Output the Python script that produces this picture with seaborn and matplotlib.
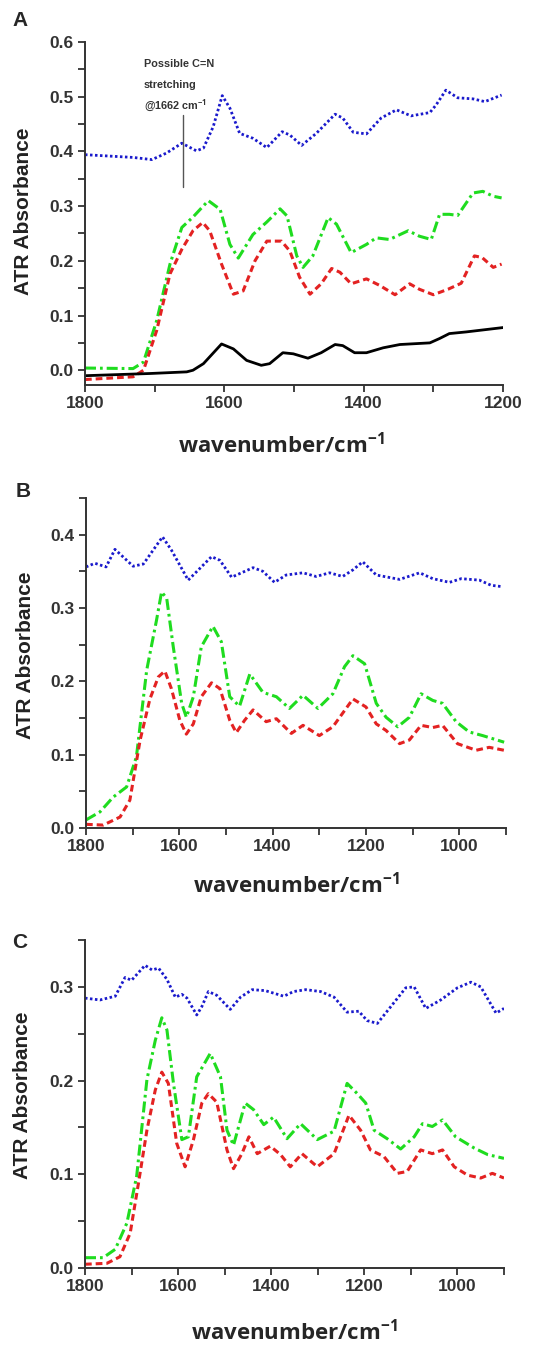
import matplotlib
matplotlib.use('Agg')
import matplotlib.pyplot as plt
from matplotlib.ticker import MultipleLocator
import numpy as np
import pandas as pd
import seaborn as sns

# ---- panel A (1800-1200 cm-1) ----
a_black_wn = [1800, 1707, 1654, 1645, 1630, 1604, 1587, 1568, 1547, 1535, 1516, 1501, 1480, 1461,
              1441, 1430, 1413, 1396, 1372, 1348, 1305, 1291, 1277, 1253, 1200]
a_black = [-0.010, -0.006, -0.003, 0.0, 0.012, 0.048, 0.039, 0.018, 0.009, 0.012, 0.032, 0.030, 0.022,
           0.032, 0.047, 0.045, 0.032, 0.032, 0.041, 0.047, 0.050, 0.058, 0.067, 0.070, 0.078]
a_blue_wn = [1800, 1731, 1704, 1683, 1661, 1640, 1630, 1616, 1603, 1592, 1578, 1559, 1539, 1517, 1506,
             1489, 1468, 1441, 1430, 1415, 1396, 1375, 1353, 1332, 1305, 1296, 1282, 1265, 1243, 1226, 1202]
a_blue = [0.394, 0.389, 0.385, 0.397, 0.415, 0.401, 0.406, 0.445, 0.502, 0.479, 0.433, 0.424, 0.407,
          0.436, 0.430, 0.411, 0.433, 0.468, 0.461, 0.435, 0.432, 0.461, 0.476, 0.465, 0.471, 0.485,
          0.512, 0.498, 0.496, 0.491, 0.503]
a_green_wn = [1800, 1731, 1716, 1697, 1678, 1661, 1645, 1623, 1606, 1592, 1580, 1559, 1539, 1520, 1510,
              1496, 1487, 1473, 1451, 1439, 1418, 1396, 1382, 1363, 1336, 1320, 1303, 1291, 1277, 1265,
              1243, 1229, 1214, 1202]
a_green = [0.004, 0.003, 0.015, 0.091, 0.194, 0.261, 0.280, 0.310, 0.294, 0.230, 0.205, 0.248, 0.271,
           0.295, 0.282, 0.209, 0.188, 0.209, 0.279, 0.267, 0.215, 0.230, 0.242, 0.239, 0.255, 0.245,
           0.239, 0.285, 0.285, 0.283, 0.324, 0.327, 0.318, 0.315]
a_red_wn = [1800, 1731, 1716, 1697, 1678, 1661, 1645, 1631, 1621, 1604, 1587, 1573, 1556, 1539, 1518,
            1506, 1492, 1477, 1461, 1446, 1434, 1418, 1396, 1377, 1355, 1334, 1320, 1300, 1279, 1260,
            1241, 1230, 1214, 1202]
a_red = [-0.017, -0.012, 0.0, 0.073, 0.176, 0.221, 0.255, 0.270, 0.255, 0.194, 0.139, 0.145, 0.200,
         0.236, 0.236, 0.218, 0.170, 0.139, 0.158, 0.186, 0.179, 0.158, 0.167, 0.155, 0.138, 0.158,
         0.148, 0.138, 0.148, 0.159, 0.209, 0.206, 0.188, 0.194]

# ---- panel B (1800-900 cm-1) ----
b_blue_wn = [1800, 1781, 1757, 1738, 1699, 1677, 1656, 1636, 1617, 1581, 1556, 1531, 1513, 1488, 1442,
             1421, 1396, 1371, 1335, 1307, 1278, 1250, 1228, 1207, 1178, 1128, 1085, 1057, 1021, 996,
             957, 932, 907]
b_blue = [0.356, 0.361, 0.356, 0.380, 0.357, 0.360, 0.379, 0.397, 0.379, 0.338, 0.354, 0.370, 0.365,
          0.342, 0.355, 0.350, 0.335, 0.345, 0.348, 0.343, 0.348, 0.343, 0.352, 0.363, 0.345, 0.339,
          0.348, 0.340, 0.335, 0.340, 0.338, 0.331, 0.329]
b_green_wn = [1800, 1770, 1742, 1713, 1692, 1670, 1649, 1638, 1627, 1613, 1595, 1585, 1570, 1553, 1528,
              1510, 1492, 1471, 1449, 1421, 1392, 1364, 1335, 1303, 1271, 1246, 1228, 1203, 1178, 1157,
              1132, 1107, 1082, 1057, 1036, 1007, 979, 950, 904]
b_green = [0.011, 0.022, 0.042, 0.056, 0.097, 0.215, 0.283, 0.322, 0.313, 0.247, 0.170, 0.151, 0.179,
           0.247, 0.275, 0.254, 0.179, 0.166, 0.210, 0.185, 0.179, 0.163, 0.181, 0.163, 0.183, 0.220,
           0.235, 0.224, 0.170, 0.151, 0.138, 0.151, 0.183, 0.174, 0.170, 0.145, 0.131, 0.126, 0.117]
b_red_wn = [1800, 1763, 1727, 1706, 1684, 1663, 1645, 1631, 1617, 1599, 1585, 1570, 1553, 1531, 1513,
            1492, 1478, 1460, 1442, 1414, 1392, 1360, 1335, 1300, 1271, 1228, 1200, 1178, 1157, 1128,
            1107, 1082, 1057, 1036, 1004, 964, 936, 904]
b_red = [0.005, 0.004, 0.015, 0.038, 0.120, 0.176, 0.206, 0.214, 0.190, 0.147, 0.128, 0.142, 0.179,
         0.198, 0.190, 0.147, 0.130, 0.147, 0.161, 0.145, 0.149, 0.129, 0.140, 0.126, 0.138, 0.176,
         0.165, 0.142, 0.133, 0.115, 0.120, 0.140, 0.137, 0.140, 0.115, 0.106, 0.110, 0.106]

# ---- panel C (1800-900 cm-1) ----
c_blue_wn = [1800, 1768, 1735, 1714, 1700, 1671, 1656, 1642, 1624, 1606, 1592, 1581, 1560, 1549, 1535,
             1517, 1488, 1466, 1441, 1413, 1373, 1352, 1326, 1294, 1265, 1237, 1212, 1194, 1172, 1143,
             1111, 1093, 1068, 1036, 1000, 971, 950, 917, 900]
c_blue = [0.288, 0.286, 0.290, 0.310, 0.307, 0.323, 0.318, 0.320, 0.308, 0.289, 0.292, 0.288, 0.270,
          0.279, 0.295, 0.291, 0.276, 0.289, 0.297, 0.296, 0.290, 0.295, 0.297, 0.295, 0.289, 0.273,
          0.274, 0.264, 0.261, 0.279, 0.299, 0.300, 0.277, 0.286, 0.299, 0.305, 0.300, 0.272, 0.277]
c_green_wn = [1800, 1761, 1735, 1710, 1689, 1667, 1649, 1635, 1624, 1610, 1592, 1578, 1560, 1531, 1509,
              1495, 1481, 1456, 1438, 1416, 1395, 1366, 1337, 1301, 1265, 1237, 1215, 1197, 1179, 1151,
              1122, 1093, 1075, 1054, 1032, 1004, 964, 935, 900]
c_green = [0.011, 0.011, 0.020, 0.048, 0.098, 0.201, 0.243, 0.267, 0.254, 0.197, 0.137, 0.140, 0.204,
           0.229, 0.204, 0.147, 0.131, 0.176, 0.169, 0.153, 0.161, 0.138, 0.154, 0.137, 0.146, 0.197,
           0.186, 0.176, 0.147, 0.138, 0.127, 0.140, 0.154, 0.151, 0.158, 0.140, 0.128, 0.121, 0.117]
c_red_wn = [1800, 1753, 1725, 1703, 1685, 1667, 1649, 1635, 1621, 1603, 1585, 1567, 1549, 1535, 1517,
            1495, 1481, 1463, 1448, 1430, 1402, 1380, 1359, 1334, 1301, 1265, 1233, 1208, 1187, 1158,
            1129, 1108, 1079, 1054, 1032, 1007, 978, 950, 925, 900]
c_red = [0.004, 0.005, 0.012, 0.037, 0.091, 0.147, 0.190, 0.209, 0.197, 0.133, 0.108, 0.137, 0.176,
         0.186, 0.177, 0.126, 0.106, 0.122, 0.140, 0.122, 0.130, 0.121, 0.108, 0.122, 0.108, 0.122,
         0.163, 0.147, 0.126, 0.119, 0.101, 0.103, 0.126, 0.122, 0.126, 0.108, 0.099, 0.096, 0.101, 0.096]

annot_lines = ["Possible C=N", "stretching", "@1662 cm$^{-1}$"]

sns.set_style('ticks')
plt.rcParams['font.family'] = ['Liberation Sans', 'DejaVu Sans']
plt.rcParams['mathtext.fontset'] = 'custom'
plt.rcParams['mathtext.rm'] = 'Open Sans:bold'
plt.rcParams['mathtext.default'] = 'rm'

BLUE, RED, GREEN, BLACK = '#1a1acc', '#e32222', '#1fdc1f', '#000000'
GREY = '#333333'

W, H = 557, 1347
fig = plt.figure(figsize=(W / 100, H / 100), dpi=100, facecolor='white')


def make_axes(left, right, top, bottom):
    return fig.add_axes([left / W, 1 - bottom / H, (right - left) / W, (bottom - top) / H])


def draw(ax, x, y, color, style, lw):
    sns.lineplot(x=x, y=y, ax=ax, color=color, linewidth=lw, sort=False, estimator=None)
    line = ax.lines[-1]
    if style == 'dot':
        line.set_dashes((0.9, 0.9))
    elif style == 'dash':
        line.set_dashes((2.2, 1.3))
    elif style == 'dashdot':
        line.set_dashes((3.6, 1.3, 0.9, 1.3))


def setting_axes(ax, xlim, ylim, xmajor, ymajor, xlab_pos, ylab_pos):
    ax.set_xlim(*xlim)
    ax.set_ylim(*ylim)
    ax.xaxis.set_major_locator(MultipleLocator(xmajor))
    ax.xaxis.set_minor_locator(MultipleLocator(xmajor / 2))
    ax.yaxis.set_major_locator(MultipleLocator(ymajor))
    ax.yaxis.set_minor_locator(MultipleLocator(ymajor / 2))
    for s in ['top', 'right']:
        ax.spines[s].set_visible(False)
    for s in ['left', 'bottom']:
        ax.spines[s].set_linewidth(1.4)
        ax.spines[s].set_color(GREY)
    ax.tick_params(axis='both', which='major', direction='out', length=5, width=1.3,
                   color=GREY, labelcolor=GREY, labelsize=12.5, pad=3)
    ax.tick_params(axis='both', which='minor', direction='out', length=5, width=1.3, color=GREY)
    for t in ax.get_xticklabels() + ax.get_yticklabels():
        t.set_fontweight('bold')
    ax.yaxis.set_major_formatter(matplotlib.ticker.FormatStrFormatter('%.1f'))
    ax.set_xlabel('wavenumber/cm$^{-1}$', fontsize=16, fontweight='bold',
                  family=['Open Sans', 'DejaVu Sans'], va='center')
    ax.xaxis.set_label_coords(*xlab_pos)
    ax.set_ylabel('ATR Absorbance', fontsize=15, fontweight='bold', color='#222222',
                  va='center', ha='center')
    ax.yaxis.set_label_coords(*ylab_pos)
    ax.set_facecolor('white')


# Panel A
axA = make_axes(85, 503, 42, 385)
draw(axA, a_blue_wn, a_blue, BLUE, 'dot', 2.0)
draw(axA, a_green_wn, a_green, GREEN, 'dashdot', 2.2)
draw(axA, a_red_wn, a_red, RED, 'dash', 2.2)
draw(axA, a_black_wn, a_black, BLACK, 'solid', 2.0)
setting_axes(axA, (1800, 1200), (-0.027, 0.6), 200, 0.1,
             (0.47, -(445 - 385) / 343), (-0.148, 0.507))
axA.plot([1660, 1660], [0.335, 0.467], color='#555555', linewidth=1.0)
for i, txt in enumerate(annot_lines):
    axA.text(1716, 0.559 - i * 0.037, txt, fontsize=7.8, fontweight='bold', color=GREY,
             ha='left', va='center')

# Panel B
axB = make_axes(86, 506, 498, 828)
draw(axB, b_blue_wn, b_blue, BLUE, 'dot', 2.0)
draw(axB, b_green_wn, b_green, GREEN, 'dashdot', 2.2)
draw(axB, b_red_wn, b_red, RED, 'dash', 2.2)
setting_axes(axB, (1800, 900), (0, 0.45), 200, 0.1,
             (0.50, -(885 - 828) / 330), (-0.145, 0.524))

# Panel C
axC = make_axes(85, 504, 940, 1268)
draw(axC, c_blue_wn, c_blue, BLUE, 'dot', 2.0)
draw(axC, c_green_wn, c_green, GREEN, 'dashdot', 2.2)
draw(axC, c_red_wn, c_red, RED, 'dash', 2.2)
setting_axes(axC, (1800, 900), (0, 0.35), 200, 0.1,
             (0.50, -(1332 - 1268) / 328), (-0.148, 0.527))

for letter, (px, py) in zip(['A', 'B', 'C'], [(20, 21), (23, 492), (20, 942)]):
    fig.text(px / W, 1 - py / H, letter, fontsize=15, fontweight='bold', ha='center', va='center')

plt.savefig('out.png', dpi=100, facecolor='white')
